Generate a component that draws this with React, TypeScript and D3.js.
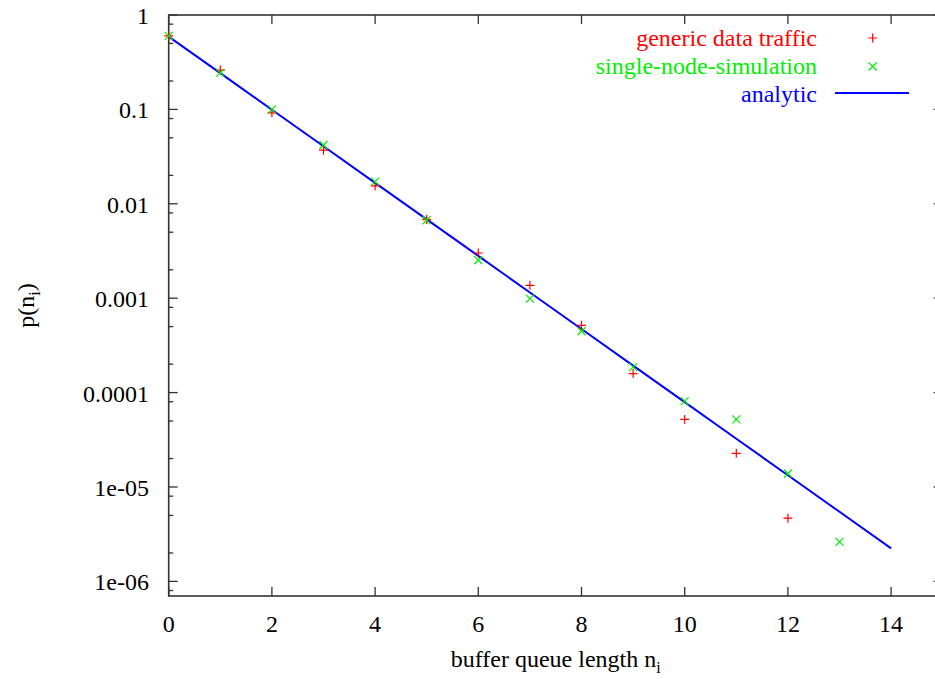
import React from "react";
import * as d3 from "d3";

const xTicks = [0, 2, 4, 6, 8, 10, 12, 14];
const yTicks = [1, 0.1, 0.01, 0.001, 0.0001, 1e-5, 1e-6];
const yTickLabels = ["1", "0.1", "0.01", "0.001", "0.0001", "1e-05", "1e-06"];
const minorMultipliers = [2, 5, 8];

const genericN = [0, 1, 2, 3, 4, 5, 6, 7, 8, 9, 10, 11, 12];
const genericP = [0.6, 0.261, 0.092, 0.037, 0.0155, 0.0068, 0.00301, 0.00137, 0.000516, 0.000159, 5.2e-5, 2.27e-5, 4.67e-6];

const singleN = [0, 1, 2, 3, 4, 5, 6, 7, 8, 9, 10, 11, 12, 13];
const singleP = [0.6, 0.244, 0.1, 0.042, 0.0172, 0.0067, 0.00252, 0.00099, 0.000446, 0.000186, 8.13e-5, 5.2e-5, 1.39e-5, 2.62e-6];

const analyticN = [0, 1, 2, 3, 4, 5, 6, 7, 8, 9, 10, 11, 12, 13, 14];
const analyticP = [0.59, 0.2419, 0.09918, 0.04066, 0.01667, 0.006836, 0.002803, 0.001149, 0.000471, 0.0001931, 7.918e-5, 3.246e-5, 1.331e-5, 5.458e-6, 2.238e-6];

const legendLabels = ["generic data traffic", "single-node-simulation", "analytic"];
const colors = { generic: "#ff0000", single: "#00ee00", analytic: "#0000ff" };

const W = 935, H = 679;
const left = 168.7, right = 942.7, top = 15, bottom = 596;
const FONT = "'Liberation Serif', 'Times New Roman', serif";

export default function App() {
  const x = d3.scaleLinear().domain([0, 15]).range([left, right]);
  const y = d3.scaleLog().domain([7e-7, 1]).range([bottom, top]);
  const axisColor = "#333";

  const minor: number[] = [];
  for (let e = -7; e <= 0; e++) {
    for (const m of minorMultipliers) {
      const v = m * Math.pow(10, e);
      if (v > 7e-7 && v < 1) minor.push(v);
    }
  }

  const line = d3
    .line<number>()
    .x((_, i) => x(analyticN[i]))
    .y((d) => y(d));

  const plus = (cx: number, cy: number, k: string) => (
    <path key={k} d={`M${cx - 4.5},${cy}H${cx + 4.5}M${cx},${cy - 4.5}V${cy + 4.5}`} stroke={colors.generic} strokeWidth={1.2} fill="none" />
  );
  const cross = (cx: number, cy: number, k: string) => (
    <path key={k} d={`M${cx - 4},${cy - 4}L${cx + 4},${cy + 4}M${cx - 4},${cy + 4}L${cx + 4},${cy - 4}`} stroke={colors.single} strokeWidth={1.2} fill="none" />
  );

  const legTextX = 817;
  const legSymX = 872.7;
  const legBase = [46, 74, 102];

  return (
    <svg width={W} height={H} style={{ position: "absolute", left: 0, top: 0, background: "#fff" }} fontFamily={FONT}>
      <rect x={0} y={0} width={W} height={H} fill="#fff" />
      {/* ticks */}
      {xTicks.map((t) => (
        <g key={"xt" + t}>
          <line x1={x(t)} x2={x(t)} y1={bottom} y2={bottom - 9} stroke={axisColor} strokeWidth={1.3} />
          <line x1={x(t)} x2={x(t)} y1={top} y2={top + 9} stroke={axisColor} strokeWidth={1.3} />
          <text x={x(t)} y={632} textAnchor="middle" fontSize={24} fill="#000">{t}</text>
        </g>
      ))}
      {yTicks.map((t, i) => (
        <g key={"yt" + t}>
          <line x1={left} x2={left + 9} y1={y(t)} y2={y(t)} stroke={axisColor} strokeWidth={1.3} />
          <line x1={right} x2={right - 9} y1={y(t)} y2={y(t)} stroke={axisColor} strokeWidth={1.3} />
          <text x={149} y={y(t) + 9} textAnchor="end" fontSize={24} fill="#000">{yTickLabels[i]}</text>
        </g>
      ))}
      {minor.map((t, i) => (
        <g key={"ym" + i}>
          <line x1={left} x2={left + 4.5} y1={y(t)} y2={y(t)} stroke={axisColor} strokeWidth={1.3} />
          <line x1={right} x2={right - 4.5} y1={y(t)} y2={y(t)} stroke={axisColor} strokeWidth={1.3} />
        </g>
      ))}
      {/* frame */}
      <rect x={left} y={top} width={right - left} height={bottom - top} fill="none" stroke={axisColor} strokeWidth={1.6} />
      {/* analytic line */}
      <path d={line(analyticP) || ""} fill="none" stroke={colors.analytic} strokeWidth={2} />
      {genericP.map((p, i) => plus(x(genericN[i]), y(p), "g" + i))}
      {singleP.map((p, i) => cross(x(singleN[i]), y(p), "s" + i))}
      {/* legend */}
      <text x={legTextX} y={legBase[0]} textAnchor="end" fontSize={24} fill={colors.generic}>{legendLabels[0]}</text>
      {plus(legSymX, legBase[0] - 8, "lg")}
      <text x={legTextX} y={legBase[1]} textAnchor="end" fontSize={24} fill={colors.single}>{legendLabels[1]}</text>
      {cross(legSymX, legBase[1] - 7.5, "ls")}
      <text x={legTextX} y={legBase[2]} textAnchor="end" fontSize={24} fill={colors.analytic}>{legendLabels[2]}</text>
      <line x1={835} x2={909} y1={legBase[2] - 9} y2={legBase[2] - 9} stroke={colors.analytic} strokeWidth={2} />
      {/* axis labels */}
      <text x={(left + right) / 2} y={667} textAnchor="middle" fontSize={24} fill="#000">
        buffer queue length n<tspan fontSize={16} dy={6}>i</tspan>
      </text>
      <text transform={`translate(34, ${(top + bottom) / 2}) rotate(-90)`} textAnchor="middle" fontSize={24} fill="#000">
        p(n<tspan fontSize={16} dy={6}>i</tspan><tspan dy={-6}>)</tspan>
      </text>
    </svg>
  );
}
